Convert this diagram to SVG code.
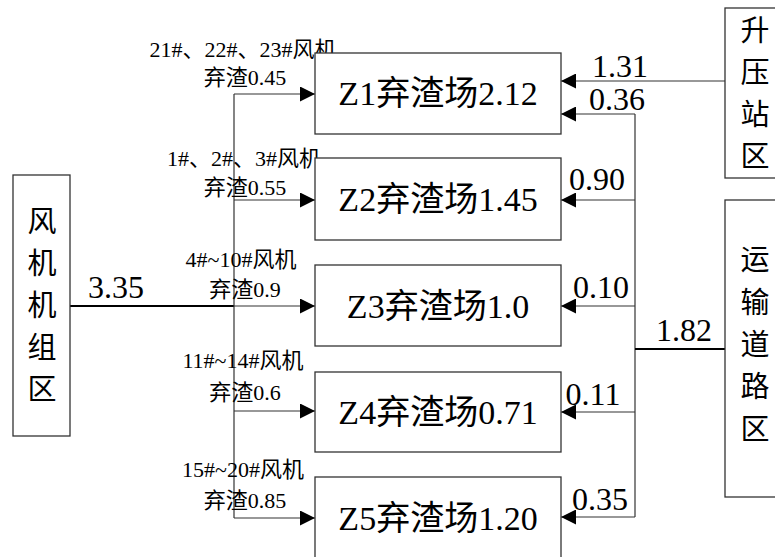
<svg xmlns="http://www.w3.org/2000/svg" width="775" height="557" viewBox="0 0 775 557">
<defs>
<marker id="arr" markerUnits="userSpaceOnUse" markerWidth="15" markerHeight="15" refX="15" refY="7.5" orient="auto">
<path d="M0,0 L15,7.5 L0,15 z" fill="#000"/>
</marker>
<style>
.box{fill:#fff;stroke:#333;stroke-width:1.3}
.ln{fill:none;stroke:#333;stroke-width:1.2}
.thick{fill:none;stroke:#000;stroke-width:2}
text{font-family:"Liberation Serif","Noto Sans CJK SC",serif;fill:#000}
.c{font-family:"Noto Sans CJK SC","Liberation Serif",sans-serif}
.l{font-family:"Liberation Serif",serif}
.big{font-size:34px}
.num{font-size:32px}
.sm{font-size:22px}
.vt{font-size:29px;font-family:"Noto Sans CJK SC",sans-serif}
</style>
</defs>
<rect width="775" height="557" fill="#fff"/>
<g id="connectors">
<path class="thick" d="M70,306 H234"/>
<path class="ln" d="M234,94 V518"/>
<path class="ln" marker-end="url(#arr)" d="M234,94 H315"/>
<path class="ln" marker-end="url(#arr)" d="M234,200 H315"/>
<path class="ln" marker-end="url(#arr)" d="M234,306 H315"/>
<path class="ln" marker-end="url(#arr)" d="M234,411 H315"/>
<path class="ln" marker-end="url(#arr)" d="M234,518 H315"/>
<path class="ln" marker-end="url(#arr)" d="M725,81 H561"/>
<path class="ln" d="M635,114 V517"/>
<path class="ln" marker-end="url(#arr)" d="M635,114 H561"/>
<path class="ln" marker-end="url(#arr)" d="M635,200 H561"/>
<path class="ln" marker-end="url(#arr)" d="M635,306 H561"/>
<path class="ln" marker-end="url(#arr)" d="M635,412 H561"/>
<path class="ln" marker-end="url(#arr)" d="M635,517 H561"/>
<path class="thick" d="M635,349 H725"/>
<text class="num" x="116" y="298" text-anchor="middle">3.35</text>
<text class="num" x="620" y="77" text-anchor="middle">1.31</text>
<text class="num" x="617" y="110" text-anchor="middle">0.36</text>
<text class="num" x="597" y="190" text-anchor="middle">0.90</text>
<text class="num" x="601" y="298" text-anchor="middle">0.10</text>
<text class="num" x="684" y="341" text-anchor="middle">1.82</text>
<text class="num" x="593" y="405" text-anchor="middle">0.11</text>
<text class="num" x="600" y="510" text-anchor="middle">0.35</text>
<text class="sm" x="243" y="57" text-anchor="middle"><tspan class="l">21#</tspan><tspan class="c">、</tspan><tspan class="l">22#</tspan><tspan class="c">、</tspan><tspan class="l">23#</tspan><tspan class="c">风机</tspan></text>
<text class="sm" x="245" y="85" text-anchor="middle"><tspan class="c">弃渣</tspan><tspan class="l">0.45</tspan></text>
<text class="sm" x="244" y="166" text-anchor="middle"><tspan class="l">1#</tspan><tspan class="c">、</tspan><tspan class="l">2#</tspan><tspan class="c">、</tspan><tspan class="l">3#</tspan><tspan class="c">风机</tspan></text>
<text class="sm" x="245" y="195" text-anchor="middle"><tspan class="c">弃渣</tspan><tspan class="l">0.55</tspan></text>
<text class="sm" x="241" y="267" text-anchor="middle"><tspan class="l">4#~10#</tspan><tspan class="c">风机</tspan></text>
<text class="sm" x="245" y="297" text-anchor="middle"><tspan class="c">弃渣</tspan><tspan class="l">0.9</tspan></text>
<text class="sm" x="243" y="368" text-anchor="middle"><tspan class="l">11#~14#</tspan><tspan class="c">风机</tspan></text>
<text class="sm" x="245" y="400" text-anchor="middle"><tspan class="c">弃渣</tspan><tspan class="l">0.6</tspan></text>
<text class="sm" x="243" y="477" text-anchor="middle"><tspan class="l">15#~20#</tspan><tspan class="c">风机</tspan></text>
<text class="sm" x="245" y="508" text-anchor="middle"><tspan class="c">弃渣</tspan><tspan class="l">0.85</tspan></text>
</g>
<g id="fengji">
<rect class="box" x="13" y="175" width="57" height="261"/>
<text class="vt" text-anchor="middle"><tspan x="42" y="232">风</tspan><tspan x="42" y="274">机</tspan><tspan x="42" y="316">机</tspan><tspan x="42" y="358">组</tspan><tspan x="42" y="400">区</tspan></text>
</g>
<g id="z1">
<rect class="box" x="315" y="53" width="246" height="81"/>
<text class="big" x="438" y="105" text-anchor="middle"><tspan class="l">Z1</tspan><tspan class="c">弃渣场</tspan><tspan class="l">2.12</tspan></text>
</g>
<g id="z2">
<rect class="box" x="315" y="158" width="246" height="82"/>
<text class="big" x="438" y="211" text-anchor="middle"><tspan class="l">Z2</tspan><tspan class="c">弃渣场</tspan><tspan class="l">1.45</tspan></text>
</g>
<g id="z3">
<rect class="box" x="315" y="265" width="246" height="81"/>
<text class="big" x="438" y="318" text-anchor="middle"><tspan class="l">Z3</tspan><tspan class="c">弃渣场</tspan><tspan class="l">1.0</tspan></text>
</g>
<g id="z4">
<rect class="box" x="315" y="372" width="246" height="80"/>
<text class="big" x="438" y="424" text-anchor="middle"><tspan class="l">Z4</tspan><tspan class="c">弃渣场</tspan><tspan class="l">0.71</tspan></text>
</g>
<g id="z5">
<rect class="box" x="315" y="477" width="246" height="100"/>
<text class="big" x="438" y="530" text-anchor="middle"><tspan class="l">Z5</tspan><tspan class="c">弃渣场</tspan><tspan class="l">1.20</tspan></text>
</g>
<g id="shengya">
<rect class="box" x="725" y="8" width="70" height="170"/>
<text class="vt" text-anchor="middle"><tspan x="755" y="41">升</tspan><tspan x="755" y="83">压</tspan><tspan x="755" y="125">站</tspan><tspan x="755" y="167">区</tspan></text>
</g>
<g id="yunshu">
<rect class="box" x="725" y="200" width="70" height="297"/>
<text class="vt" text-anchor="middle"><tspan x="755" y="270">运</tspan><tspan x="755" y="313">输</tspan><tspan x="755" y="355">道</tspan><tspan x="755" y="397">路</tspan><tspan x="755" y="440">区</tspan></text>
</g>
</svg>
